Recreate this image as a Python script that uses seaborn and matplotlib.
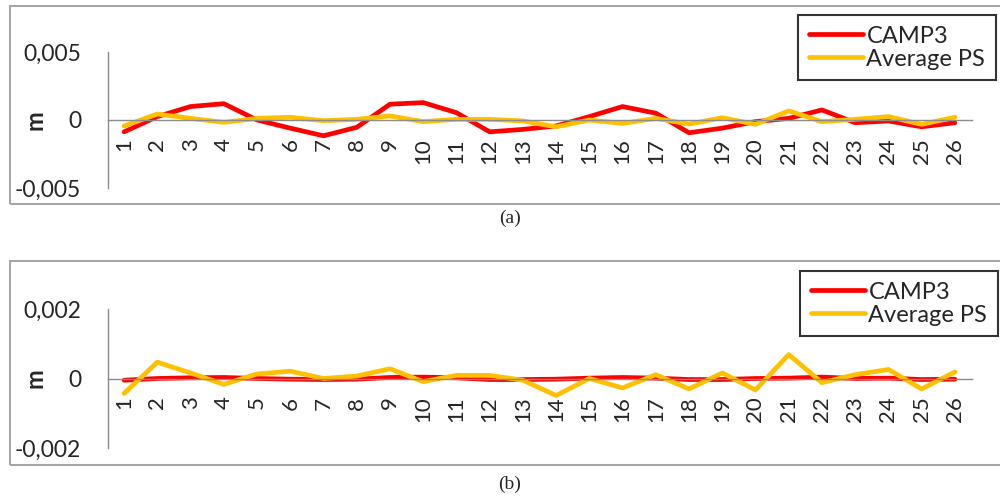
import numpy as np
import pandas as pd
import matplotlib
matplotlib.use('Agg')
import matplotlib.pyplot as plt
from matplotlib.patches import Rectangle
import seaborn as sns

# data
points = list(range(1, 27))
series_names = ['CAMP3', 'Average PS']

camp3_a = [-0.00087, 0.00025, 0.00099, 0.0012, 0.0, -0.0006, -0.00116, -0.00054, 0.00116, 0.00128,
           0.00054, -0.00087, -0.00069, -0.00044, 0.00025, 0.00099, 0.0005, -0.00094, -0.0006, -0.00012,
           0.00012, 0.00074, -0.0002, -0.00007, -0.0005, -0.0002]
avgps_a = [-0.00044, 0.00044, 0.00012, -0.00017, 0.00012, 0.0002, -0.00005, 0.00005, 0.0003, -0.00012,
           0.00005, 0.00005, -0.00007, -0.0005, 0.0, -0.00025, 0.00012, -0.0003, 0.00017, -0.00032,
           0.00067, -0.00012, 0.00005, 0.00025, -0.00032, 0.0002]

camp3_b = [-0.00005, 0.0, 0.00002, 0.00003, 0.0, -0.00002, -0.00003, -0.00002, 0.00003, 0.00004,
           0.00002, -0.00003, -0.00003, -0.00002, 0.00001, 0.00003, 0.00001, -0.00003, -0.00003, 0.0,
           0.00001, 0.00004, 0.0, 0.00001, -0.00003, -0.00002]
avgps_b = [-0.00043, 0.00047, 0.00016, -0.00017, 0.00013, 0.00021, 0.0, 0.00007, 0.00028, -0.00009,
           0.00009, 0.00009, -0.00005, -0.00049, 0.0, -0.00027, 0.00011, -0.0003, 0.00016, -0.00033,
           0.00069, -0.00012, 0.00011, 0.00026, -0.0003, 0.00019]

yticks_a = [-0.005, 0, 0.005]
ylabels_a = ['-0,005', '0', '0,005']
yticks_b = [-0.002, 0, 0.002]
ylabels_b = ['-0,002', '0', '0,002']

colors = {'CAMP3': '#FF0000', 'Average PS': '#FFC000'}

sns.set_style('white')
plt.rcParams['font.family'] = ['Lato', 'DejaVu Sans']

W, H = 1000, 497
fig = plt.figure(figsize=(10, 4.97), dpi=100)


def px_axes(x0, y0, x1, y1):
    return [x0 / W, 1 - y1 / H, (x1 - x0) / W, (y1 - y0) / H]


def draw_panel(rect, camp, avg, yt, yl, frame, leg_box, cap, cap_y):
    ax = fig.add_axes(px_axes(*rect))
    df = pd.DataFrame({
        'x': points * 2,
        'y': camp + avg,
        'series': ['CAMP3'] * 26 + ['Average PS'] * 26,
    })
    sns.lineplot(data=df, x='x', y='y', hue='series', palette=colors,
                 hue_order=series_names, linewidth=3.4, ax=ax, legend=False)
    for s in ['top', 'right']:
        ax.spines[s].set_visible(False)
    # moving the spine resets the ticks, so do it first
    ax.spines['bottom'].set_position(('data', 0))
    for s in ['bottom', 'left']:
        ax.spines[s].set_color('#8c8c8c')
        ax.spines[s].set_linewidth(1)
    ax.set_xlim(0.5, 26.5)
    ax.set_ylim(yt[0], yt[-1])
    ax.set_yticks(yt)
    ax.set_yticklabels(yl, fontsize=16.5)
    ax.set_xticks(points)
    ax.set_xticklabels([str(p) for p in points], rotation=90, fontsize=16)
    ax.tick_params(axis='both', length=0)
    ax.tick_params(axis='y', pad=19)
    ax.tick_params(axis='x', pad=13)
    ax.set_xlabel('')
    ax.set_ylabel('')
    ax.set_facecolor('none')

    # "m" label
    yc = (rect[1] + rect[3]) / 2
    fig.text(35 / W, 1 - yc / H, 'm', rotation=90, fontsize=17, fontweight='bold',
             ha='center', va='center')

    # panel frame
    fx0, fy0, fx1, fy1 = frame
    fig.patches.append(Rectangle((fx0 / W, 1 - fy1 / H), (fx1 - fx0) / W, (fy1 - fy0) / H,
                                 transform=fig.transFigure, fill=False,
                                 edgecolor='#a6a6a6', linewidth=1.5, zorder=0))

    handles = [plt.Line2D([], [], color=colors[n], linewidth=3.4) for n in series_names]
    leg = ax.legend(handles, series_names, loc='upper right',
                    bbox_to_anchor=(leg_box[0] / W, 1 - leg_box[1] / H),
                    bbox_transform=fig.transFigure, fontsize=17, frameon=True,
                    fancybox=False, handlelength=2.3, handletextpad=0.15,
                    borderpad=0.45, labelspacing=0.08, borderaxespad=0)
    leg.get_frame().set_edgecolor('black')
    leg.get_frame().set_linewidth(1.5)

    fig.text(510 / W, 1 - cap_y / H, cap, fontsize=14, family='Liberation Serif',
             ha='center', va='center')
    return ax


draw_panel((107.5, 52, 971.5, 188), camp3_a, avgps_a, yticks_a, ylabels_a,
           (10, 6, 1010, 204), (996, 15), '(a)', 218)
draw_panel((107.5, 309, 971.5, 448), camp3_b, avgps_b, yticks_b, ylabels_b,
           (10, 261, 1010, 465), (998, 271), '(b)', 484)

fig.savefig('out.png', dpi=100)
